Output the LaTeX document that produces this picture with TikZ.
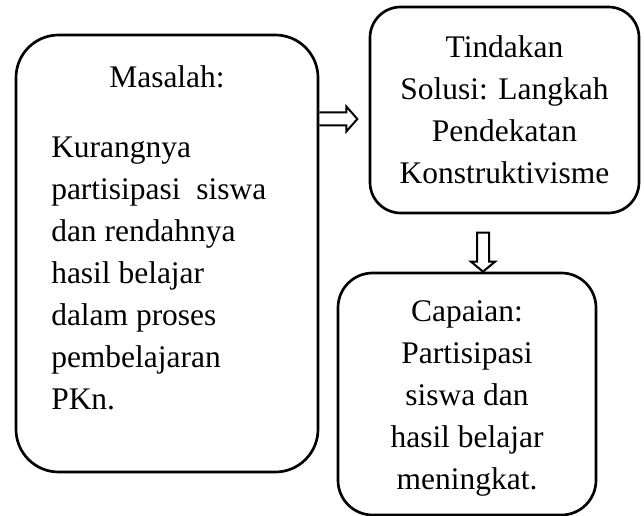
\documentclass[tikz,border=0pt]{standalone}
\usepackage{fontspec}
\setmainfont{Liberation Serif}
\usetikzlibrary{calc,positioning}

\begin{document}
\begin{tikzpicture}[
  x=0.75pt, y=-0.75pt,
  box/.style={draw, line width=2pt, rounded corners=#1, inner sep=0pt, align=center,
    font=\fontsize{23.6}{31.5}\selectfont},
  box/.default=24pt,
  teks/.style={inner sep=0pt, font=\fontsize{23.6}{31.5}\selectfont},
  blockarrow/.style={draw, line width=1.5pt, line join=miter}
]
  \useasboundingbox (0,0) rectangle (644,516);

  \node[box=32pt, minimum width=226.5pt, minimum height=327.75pt] (masalah) at (167,253.5) {};
  \node[box=23pt, minimum width=201.75pt, minimum height=154.5pt] (tindakan) at (504.5,110)
    {Tindakan\\Solusi: Langkah\\Pendekatan\\Konstruktivisme};
  \node[box=26pt, minimum width=193.5pt, minimum height=181.5pt] (capaian) at (467,394) {};

  \node[teks, anchor=base] (judul) at (167,88) {Masalah:};
  % base of a multi-line node is its last line
  \node[teks, align=left, anchor=base west] (isi) at (51,410)
    {Kurangnya\\partisipasi\ \ siswa\\dan rendahnya\\hasil belajar\\dalam proses\\pembelajaran\\PKn.};
  \node[teks, align=center, anchor=base] (hasil) at (capaian.center |- 0,490)
    {Capaian:\\Partisipasi\\siswa dan\\hasil belajar\\meningkat.};

  % hollow arrows between the boxes
  \coordinate (kanan) at (masalah.east |- 0,119);
  \draw[blockarrow] ($(kanan)+(0,-6.5)$) -- ++(27,0) -- ++(0,-6) -- ($(kanan)+(38,0)$)
    -- ++(-11,12.5) -- ++(0,-6) -- ($(kanan)+(0,6.5)$);
  \coordinate (bawah) at (483,0 |- capaian.north);
  \draw[blockarrow] ($(bawah)+(-6,-39)$) -- ++(0,29) -- ++(-6,0) -- (bawah)
    -- ++(12,-10) -- ++(-6,0) -- ++(0,-29) -- cycle;
\end{tikzpicture}
\end{document}
